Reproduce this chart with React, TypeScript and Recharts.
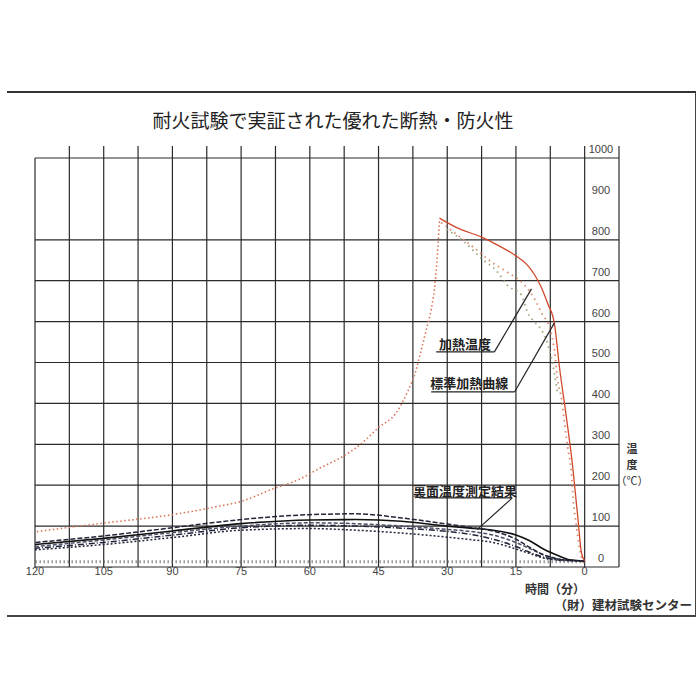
import React from "react";
import {
  ComposedChart,
  Line,
  XAxis,
  YAxis,
  CartesianGrid,
  ReferenceLine,
  ReferenceDot,
} from "recharts";

// 時間 (分) axis ticks and grid
const timeTicks = [120, 105, 90, 75, 60, 45, 30, 15, 0];
const gridTimes = [-7.5, 0, 7.5, 15, 22.5, 30, 37.5, 45, 52.5, 60, 67.5, 75, 82.5, 90, 97.5, 105, 112.5, 120];
const topTickTimes = [-7.5, 0, 7.5, 15, 22.5, 30, 37.5, 45, 52.5, 60, 67.5, 75, 82.5, 90, 97.5, 105, 112.5];
const tempTicks = [0, 100, 200, 300, 400, 500, 600, 700, 800, 900, 1000];
const gridTemps = [0, 100, 200, 300, 400, 500, 600, 700, 800, 1000];

// 標準加熱曲線
const stdTime = [0, 0.7, 1.5, 2.6, 4, 5.5, 6.6, 8.1, 9.4, 10.9, 12.5, 15.3, 19, 22.6, 27.8, 31.7];
const stdTemp = [15, 35, 122, 244, 367, 489, 595, 645, 682, 714, 738, 763, 787, 807, 829, 853];

// 加熱温度 (furnace, heating phase)
const heatATime = [0.3, 1.1, 1.8, 2.5, 2.9, 3.7, 4.4, 5, 5.9, 6.6, 7.5, 9.4, 10.9, 13.1, 16.9, 20.4, 24.1, 27.8, 31.7];
const heatATemp = [10, 45, 100, 165, 230, 293, 352, 408, 457, 530, 580, 621, 655, 689, 721, 746, 780, 812, 845];
const heatBTime = [6, 7, 8.1, 9.9, 10.9, 12.5, 13.8, 16.9, 19, 22.6, 26.3, 30];
const heatBTemp = [430, 498, 547, 587, 599, 623, 665, 689, 721, 755, 795, 825];

// 加熱温度 after the burners stop (cooling)
const coolTime = [31.7, 32, 32.3, 32.8, 33.5, 34.4, 35.7, 36.8, 38.8, 41.2, 44.9, 48.6, 53, 57.4, 62.4, 68.3, 74.5, 80.6, 90, 106, 120];
const coolTemp = [845, 790, 740, 680, 630, 588, 530, 482, 425, 376, 342, 303, 269, 244, 214, 190, 162, 147, 128, 106, 86];

// 裏面温度測定結果
const backTime = [0, 3, 6, 9, 12, 15, 20, 25, 30, 40, 50, 60, 75, 90, 105, 120];
const back1 = [15, 16, 20, 30, 48, 68, 88, 97, 105, 120, 130, 128, 116, 96, 76, 60];
const back2 = [15, 17, 29, 44, 64, 78, 90, 95, 100, 112, 116, 115, 106, 88, 70, 55];
const back3 = [15, 16, 20, 30, 45, 60, 78, 87, 92, 100, 106, 108, 100, 84, 66, 50];
const back4 = [15, 16, 18, 24, 36, 50, 68, 80, 87, 95, 100, 102, 96, 78, 60, 46];
const back5 = [15, 15, 17, 22, 33, 44, 60, 67, 73, 83, 90, 94, 90, 72, 55, 42];
const floorTime = [0, 120];
const floorTemp = [13, 13];

const zip = (ts: number[], vs: number[]) => ts.map((t, i) => ({ t, T: vs[i] }));

const JP = '"Noto Sans CJK JP", "Noto Sans", sans-serif';
const NUM = '"Liberation Sans", Arial, sans-serif';
const INK = "#2a2a2a";
const NAVY = "#22253a";

const YTick = (props: any) => {
  const { x, y, payload } = props;
  return (
    <text x={x - 18} y={y - 8} textAnchor="middle" dominantBaseline="middle" fontSize={11} fill="#444" stroke="none" fontFamily={NUM}>
      {payload.value}
    </text>
  );
};

const XTick = (props: any) => {
  const { x, y, payload } = props;
  return (
    <text x={x} y={y + 5} textAnchor="middle" dominantBaseline="middle" fontSize={11} fill="#444" stroke="none" fontFamily={NUM}>
      {payload.value}
    </text>
  );
};

// tick marks that stick up above the 1000 line
const TopTick = (props: any) => {
  const { x, y } = props;
  return <line x1={x} x2={x} y1={y} y2={y + 12} stroke={INK} strokeWidth={1.2} />;
};

const note = (value: string) => ({ value, position: "center" as const, fill: "#222", fontSize: 13, fontWeight: 700, fontFamily: JP });

export default function App() {
  const lines = [
    { data: zip(coolTime, coolTemp), stroke: "#d9765a", dash: "1.5 2.5", w: 1.6 },
    { data: zip(heatBTime, heatBTemp), stroke: "#9ea67a", dash: "1.5 4", w: 1.8 },
    { data: zip(heatATime, heatATemp), stroke: "#d98a6a", dash: "1.5 4", w: 1.8 },
    { data: zip(floorTime, floorTemp), stroke: "#666", dash: "1 3", w: 3 },
    { data: zip(backTime, back5), stroke: NAVY, dash: "2 2", w: 1.5 },
    { data: zip(backTime, back4), stroke: NAVY, dash: "6 2 1 2", w: 1.5 },
    { data: zip(backTime, back3), stroke: "#4a4e66", dash: "4 2", w: 1.5 },
    { data: zip(backTime, back2), stroke: "#111", dash: undefined, w: 1.6 },
    { data: zip(backTime, back1), stroke: NAVY, dash: "5 2", w: 1.5 },
    { data: zip(stdTime, stdTemp), stroke: "#cf4a2c", dash: undefined, w: 1.3 },
  ];
  return (
    <div style={{ position: "absolute", left: 0, top: 0, width: 700, height: 700, background: "#fff", fontFamily: JP, color: "#333" }}>
      <div style={{ position: "absolute", left: 7, top: 91, width: 688, height: 522, borderTop: "2px solid #333", borderRight: "1.5px solid #444", borderBottom: "2px solid #444" }} />
      <div style={{ position: "absolute", left: 0, top: 107, width: 666, textAlign: "center", fontSize: 19, lineHeight: "26px", color: "#222" }}>
        耐火試験で実証された優れた断熱・防火性
      </div>
      <ComposedChart width={700} height={700} margin={{ top: 146, right: 80, bottom: 103, left: 35 }} style={{ position: "absolute", left: 0, top: 0 }}>
        <CartesianGrid xAxisId="b" horizontalValues={gridTemps} verticalValues={gridTimes} stroke={INK} strokeWidth={1.2} fill="none" />
        <XAxis xAxisId="top" orientation="top" type="number" dataKey="t" domain={[-7.5, 120]} reversed allowDataOverflow ticks={topTickTimes} interval={0} height={12} tick={<TopTick />} tickSize={12} tickMargin={0} axisLine={false} tickLine={false} />
        <XAxis xAxisId="b" type="number" dataKey="t" domain={[-7.5, 120]} reversed allowDataOverflow ticks={timeTicks} interval={0} height={30} tickSize={0} tickMargin={0} axisLine={false} tickLine={false} tick={<XTick />} />
        <YAxis orientation="right" type="number" domain={[0, 1000]} ticks={tempTicks} interval={0} width={1} tickSize={0} tickMargin={0} axisLine={false} tickLine={false} tick={<YTick />} />
        {lines.map((l, i) => (
          <Line key={i} xAxisId="b" data={l.data} dataKey="T" type="monotone" stroke={l.stroke} strokeWidth={l.w} strokeDasharray={l.dash} dot={false} activeDot={false} isAnimationActive={false} />
        ))}
        {/* 加熱温度 */}
        <ReferenceLine xAxisId="b" segment={[{ x: 32.4, y: 526 }, { x: 19.7, y: 526 }]} stroke="#222" strokeWidth={1.2} ifOverflow="visible" />
        <ReferenceLine xAxisId="b" segment={[{ x: 19.7, y: 526 }, { x: 11.6, y: 680 }]} stroke="#222" strokeWidth={1.2} ifOverflow="visible" />
        <ReferenceDot xAxisId="b" x={26.1} y={545} r={0.5} fill="none" stroke="none" label={note("加熱温度")} />
        {/* 標準加熱曲線 */}
        <ReferenceLine xAxisId="b" segment={[{ x: 33.5, y: 428 }, { x: 15.3, y: 428 }]} stroke="#222" strokeWidth={1.2} ifOverflow="visible" />
        <ReferenceLine xAxisId="b" segment={[{ x: 15.3, y: 428 }, { x: 6.6, y: 597 }]} stroke="#222" strokeWidth={1.2} ifOverflow="visible" />
        <ReferenceDot xAxisId="b" x={25.2} y={450} r={0.5} fill="none" stroke="none" label={note("標準加熱曲線")} />
        {/* 裏面温度測定結果 */}
        <ReferenceLine xAxisId="b" segment={[{ x: 36.1, y: 169 }, { x: 15.8, y: 169 }]} stroke="#222" strokeWidth={1.2} ifOverflow="visible" />
        <ReferenceLine xAxisId="b" segment={[{ x: 15.8, y: 169 }, { x: 23.4, y: 92 }]} stroke="#222" strokeWidth={1.2} ifOverflow="visible" />
        <ReferenceDot xAxisId="b" x={26.1} y={185} r={0.5} fill="none" stroke="none" label={note("裏面温度測定結果")} />
      </ComposedChart>
      <div style={{ position: "absolute", left: 612, top: 440, width: 40, textAlign: "center", fontSize: 11, lineHeight: "16px", color: "#333" }}>
        <div style={{ fontWeight: 700 }}>温</div>
        <div style={{ fontWeight: 700 }}>度</div>
        <div>（℃）</div>
      </div>
      <div style={{ position: "absolute", left: 515, top: 581, width: 80, textAlign: "center", fontSize: 12, lineHeight: "16px", fontWeight: 700, color: "#333" }}>
        時間（分）
      </div>
      <div style={{ position: "absolute", left: 480, top: 597, width: 212, textAlign: "right", fontSize: 12.5, lineHeight: "16px", fontWeight: 700, color: "#333" }}>
        （財）建材試験センター
      </div>
    </div>
  );
}
